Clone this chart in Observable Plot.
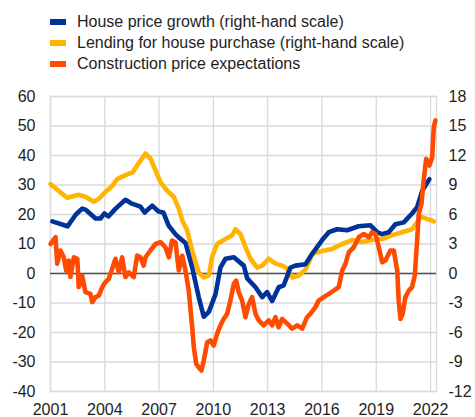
<!DOCTYPE html>
<html><head><meta charset="utf-8">
<script src="https://cdn.jsdelivr.net/npm/d3@7"></script>
<script src="https://cdn.jsdelivr.net/npm/@observablehq/plot@0.6"></script>
<style>
body{margin:0;background:#fff;font-family:"Liberation Sans",Arial,sans-serif;}
#legend{height:75px;box-sizing:border-box;padding-top:11px;padding-left:50px;}
.row{display:flex;align-items:center;height:21px;font-size:16px;color:#1e1e1e;white-space:nowrap;}
.sw{width:16px;height:6px;margin-right:11px;flex:none;}
</style></head><body>
<div id="legend"></div><div id="chart"></div>
<script>
const seriesNames = ["House price growth (right-hand scale)", "Lending for house purchase (right-hand scale)", "Construction price expectations"];
const seriesColors = ["#003299", "#FFB400", "#FF4B00"];
const xTicks = [2001, 2004, 2007, 2010, 2013, 2016, 2019, 2022];
const yTicks = [-40, -30, -20, -10, 0, 10, 20, 30, 40, 50, 60];
const rightScaleFactor = 0.3;

// House price growth, % (right-hand scale)
const houseDates = [2001.1, 2001.94, 2002.4, 2002.75, 2002.93, 2003.49, 2003.76, 2003.98, 2004.2, 2004.6, 2005.14, 2005.5, 2005.97, 2006.2, 2006.62, 2006.97, 2007.24, 2007.52, 2007.9, 2008.07, 2008.46, 2008.83, 2009.19, 2009.47, 2009.75, 2010.12, 2010.39, 2010.67, 2011.13, 2011.68, 2011.87, 2012.33, 2012.7, 2012.97, 2013.25, 2013.61, 2013.89, 2014.26, 2014.54, 2015.09, 2015.46, 2016.01, 2016.38, 2016.84, 2017.39, 2018.03, 2018.68, 2019.05, 2019.32, 2019.69, 2020.06, 2020.52, 2020.98, 2021.26, 2021.54, 2021.94];
const houseValues = [5.3, 4.8, 6.0, 6.6, 6.5, 5.6, 5.6, 6.1, 5.8, 6.6, 7.5, 7.1, 6.8, 6.2, 6.9, 6.3, 6.2, 4.9, 4.0, 3.7, 3.1, 0.6, -2.4, -4.4, -3.9, -2.1, 0.6, 1.5, 1.65, 0.8, -0.5, -1.4, -2.4, -1.9, -2.8, -1.4, -1.2, 0.6, 0.8, 0.95, 2.0, 3.4, 4.2, 4.5, 4.4, 4.8, 4.9, 4.2, 4.0, 4.2, 5.0, 5.2, 6.1, 6.75, 8.4, 9.6];

// Lending for house purchase, % (right-hand scale)
const lendingDates = [2001.0, 2001.46, 2001.92, 2002.56, 2002.93, 2003.39, 2003.67, 2004.04, 2004.41, 2004.68, 2005.14, 2005.55, 2005.79, 2006.25, 2006.52, 2006.8, 2007.08, 2007.45, 2007.81, 2008.09, 2008.28, 2008.55, 2008.83, 2009.19, 2009.47, 2009.75, 2009.93, 2010.21, 2010.67, 2011.04, 2011.22, 2011.5, 2011.77, 2012.05, 2012.42, 2012.7, 2013.06, 2013.43, 2013.8, 2014.08, 2014.35, 2014.72, 2015.09, 2015.36, 2015.46, 2016.01, 2016.56, 2017.12, 2017.67, 2018.22, 2018.77, 2019.33, 2019.88, 2020.43, 2020.98, 2021.26, 2021.44, 2021.72, 2022.18];
const lendingValues = [9.1, 8.4, 7.7, 8.0, 7.8, 7.3, 7.6, 8.3, 8.9, 9.6, 10.0, 10.3, 11.0, 12.2, 11.7, 10.5, 9.3, 8.4, 7.8, 6.6, 5.4, 4.4, 2.3, 0.1, -0.4, -0.2, 1.7, 3.0, 3.5, 3.9, 4.5, 4.0, 2.7, 1.5, 0.6, 0.8, 1.5, 1.0, 0.8, 0.5, -0.4, -0.2, 0.4, 1.5, 2.0, 2.3, 2.5, 3.0, 3.4, 3.2, 3.4, 3.5, 3.9, 4.2, 4.5, 5.2, 5.8, 5.6, 5.3];

// Construction price expectations, balance (left-hand scale)
const constructionDates = [2001.0, 2001.28, 2001.37, 2001.55, 2001.73, 2001.87, 2002.01, 2002.1, 2002.29, 2002.48, 2002.56, 2002.75, 2002.93, 2003.21, 2003.3, 2003.49, 2003.67, 2003.86, 2004.04, 2004.22, 2004.41, 2004.59, 2004.77, 2004.96, 2005.14, 2005.33, 2005.6, 2005.79, 2005.97, 2006.15, 2006.25, 2006.52, 2006.8, 2007.08, 2007.35, 2007.54, 2007.72, 2007.91, 2008.09, 2008.28, 2008.46, 2008.64, 2008.83, 2008.92, 2009.05, 2009.19, 2009.34, 2009.47, 2009.66, 2009.84, 2010.02, 2010.21, 2010.39, 2010.57, 2010.76, 2010.94, 2011.13, 2011.26, 2011.4, 2011.59, 2011.77, 2011.96, 2012.14, 2012.33, 2012.51, 2012.78, 2013.06, 2013.25, 2013.43, 2013.61, 2013.8, 2014.08, 2014.35, 2014.63, 2014.91, 2015.18, 2015.36, 2015.64, 2015.82, 2016.1, 2016.38, 2016.65, 2016.93, 2017.12, 2017.3, 2017.48, 2017.76, 2018.03, 2018.31, 2018.59, 2018.77, 2018.96, 2019.14, 2019.33, 2019.51, 2019.78, 2019.97, 2020.16, 2020.24, 2020.34, 2020.46, 2020.61, 2020.8, 2020.98, 2021.13, 2021.26, 2021.35, 2021.5, 2021.62, 2021.76, 2021.94, 2022.09, 2022.18, 2022.27];
const constructionValues = [10, 12.3, 3.3, 7.8, 5.5, 1, 4.4, -1.2, 5.5, 5, -4.6, -0.7, -6.3, -6.9, -9.7, -8, -7.5, -4.6, -2.9, -1.8, 1.6, 5, 0.4, 5.5, -1.2, 0.4, -1.2, 6.1, 5.5, 2.7, 5.5, 7.8, 10, 10.6, 8.9, 5.5, 11.2, 10.5, 1, 6, 1, -5.8, -18.2, -25, -30.6, -31.8, -32.9, -29.5, -23.3, -22.7, -24.4, -20.4, -17.6, -15.4, -13.7, -9.2, -3.5, -2.4, -6.3, -9.2, -14.8, -10.3, -8, -13.7, -15.9, -17.6, -15.9, -17.6, -14.8, -18.2, -15.4, -17, -18.7, -17.6, -18.7, -14.8, -13.7, -11.4, -9.2, -8, -6.9, -5.8, -4.6, 1, 3.3, 7.2, 8.9, 12.3, 13.4, 12.3, 14, 13.4, 8.9, 3.8, 4.4, 7.8, 7.8, 1, -9.2, -15.4, -13.7, -8, -5.8, -4.6, -0.7, 11.2, 20.2, 23.6, 31.5, 38.9, 36.6, 39.4, 49.6, 51.9];

const house = houseDates.map((d, i) => ({date: d, value: houseValues[i]}));
const lending = lendingDates.map((d, i) => ({date: d, value: lendingValues[i]}));
const construction = constructionDates.map((d, i) => ({date: d, value: constructionValues[i]}));

const legend = document.getElementById("legend");
seriesNames.forEach((name, i) => {
  const row = document.createElement("div");
  row.className = "row";
  const sw = document.createElement("span");
  sw.className = "sw";
  sw.style.background = seriesColors[i];
  const t = document.createElement("span");
  t.textContent = name;
  row.appendChild(sw); row.appendChild(t);
  legend.appendChild(row);
});

const lineOpts = {strokeWidth: 4.6, strokeLinejoin: "round", strokeLinecap: "round"};
const chart = Plot.plot({
  width: 475, height: 342,
  marginTop: 21, marginBottom: 26, marginLeft: 50, marginRight: 39,
  style: {fontFamily: "'Liberation Sans', Arial, sans-serif", fontSize: "16px", color: "#1e1e1e", background: "white"},
  x: {domain: [2001, 2022.33], label: null},
  y: {domain: [-40, 60], label: null},
  marks: [
    Plot.gridY(yTicks, {stroke: "#d9d9d9", strokeOpacity: 1, strokeWidth: 1.3}),
    Plot.gridX(xTicks, {stroke: "#d9d9d9", strokeOpacity: 1, strokeWidth: 1.3}),
    Plot.frame({stroke: "#d9d9d9", strokeWidth: 1.3}),
    Plot.ruleY([0], {stroke: "#505050", strokeWidth: 1.3}),
    Plot.line(lending, {x: "date", y: d => d.value / rightScaleFactor, stroke: seriesColors[1], ...lineOpts}),
    Plot.line(house, {x: "date", y: d => d.value / rightScaleFactor, stroke: seriesColors[0], ...lineOpts}),
    Plot.line(construction, {x: "date", y: "value", stroke: seriesColors[2], ...lineOpts}),
    Plot.axisY(yTicks, {anchor: "left", tickSize: 0, tickPadding: 15, label: null, tickFormat: d => String(d)}),
    Plot.axisY(yTicks, {anchor: "right", tickSize: 0, tickPadding: 12, label: null, tickFormat: d => String(Math.round(d * rightScaleFactor))}),
    Plot.axisX(xTicks, {tickSize: 0, tickPadding: 12, label: null, tickFormat: d => String(d)})
  ]
});
document.getElementById("chart").appendChild(chart);
</script></body></html>
